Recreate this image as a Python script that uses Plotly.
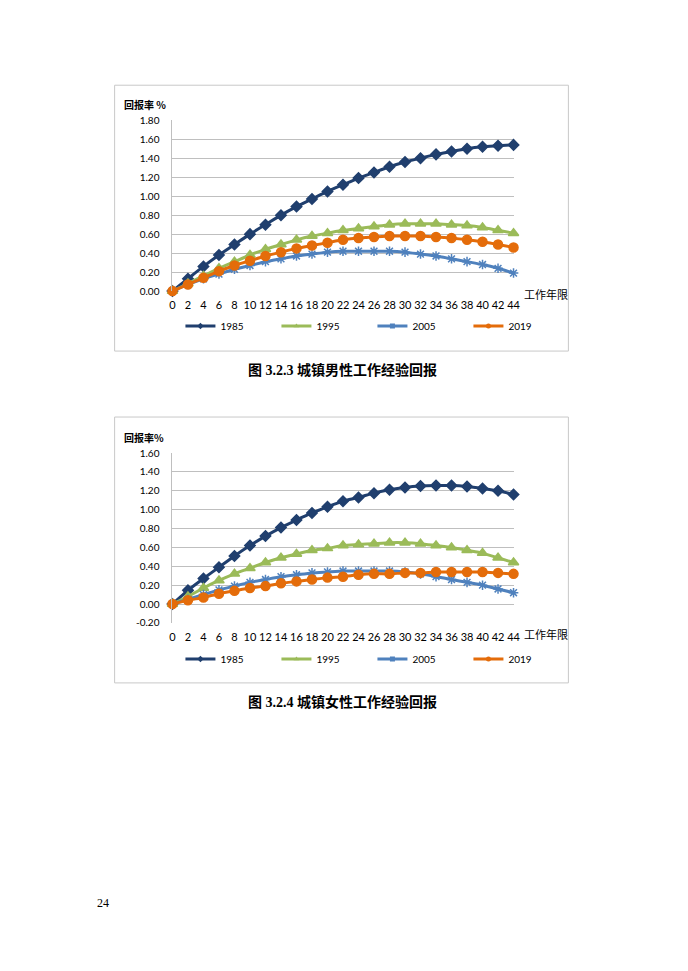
import plotly.graph_objects as go

W, H = 688, 971

years = list(range(0, 45, 2))
series_names = ["1985", "1995", "2005", "2019"]

male_1985 = [0, 0.13, 0.26, 0.38, 0.49, 0.60, 0.70, 0.80, 0.89, 0.97, 1.05, 1.12, 1.19, 1.25, 1.31, 1.36, 1.40, 1.44, 1.47, 1.50, 1.52, 1.53, 1.54]
male_1995 = [0, 0.08, 0.16, 0.24, 0.31, 0.38, 0.44, 0.49, 0.54, 0.58, 0.61, 0.64, 0.66, 0.68, 0.70, 0.71, 0.71, 0.71, 0.70, 0.69, 0.67, 0.64, 0.61]
male_2005 = [0, 0.07, 0.13, 0.18, 0.23, 0.27, 0.31, 0.34, 0.37, 0.39, 0.41, 0.42, 0.42, 0.42, 0.42, 0.41, 0.39, 0.37, 0.34, 0.31, 0.28, 0.24, 0.19]
male_2019 = [0, 0.07, 0.14, 0.21, 0.27, 0.32, 0.37, 0.41, 0.45, 0.48, 0.51, 0.54, 0.56, 0.57, 0.58, 0.58, 0.58, 0.57, 0.56, 0.54, 0.52, 0.49, 0.46]

female_1985 = [0, 0.145, 0.27, 0.39, 0.51, 0.62, 0.72, 0.81, 0.89, 0.965, 1.03, 1.09, 1.13, 1.175, 1.21, 1.235, 1.25, 1.255, 1.255, 1.245, 1.225, 1.20, 1.16]
female_1995 = [0, 0.08, 0.17, 0.25, 0.32, 0.38, 0.44, 0.49, 0.53, 0.57, 0.59, 0.62, 0.63, 0.64, 0.65, 0.65, 0.64, 0.62, 0.60, 0.57, 0.54, 0.49, 0.44]
female_2005 = [0, 0.05, 0.10, 0.15, 0.19, 0.23, 0.26, 0.29, 0.31, 0.33, 0.34, 0.35, 0.35, 0.35, 0.35, 0.34, 0.32, 0.29, 0.26, 0.23, 0.20, 0.16, 0.12]
female_2019 = [0, 0.04, 0.07, 0.11, 0.14, 0.17, 0.19, 0.22, 0.24, 0.26, 0.28, 0.29, 0.31, 0.32, 0.32, 0.33, 0.33, 0.34, 0.34, 0.34, 0.34, 0.33, 0.32]

male_ticks = [0, 0.2, 0.4, 0.6, 0.8, 1.0, 1.2, 1.4, 1.6, 1.8]
female_ticks = [-0.2, 0, 0.2, 0.4, 0.6, 0.8, 1.0, 1.2, 1.4, 1.6]

captions = ["图 3.2.3 城镇男性工作经验回报", "图 3.2.4 城镇女性工作经验回报"]
y_title = ["回报率 %", "回报率%"]
x_title = "工作年限"
page_no = "24"

colors = ["#203F6E", "#9BBB59", "#4F81BD", "#E46C0A"]
symbols = ["diamond", "triangle-up", "asterisk-open", "circle"]
msizes = [8, 9, 8, 9]
leg_symbols = ["diamond", "triangle-up", "square", "circle"]

TICKFONT = "Lato, Noto Sans, sans-serif"
CJK = "Noto Sans CJK SC, sans-serif"

# slight expansion about the page centre to match the reference page geometry
K = 1.012
CX, CY = 344.0, 485.0

def px(x):
    return (CX + (x - CX) * K) / W

def py(y):
    return 1 - (CY + (y - CY) * K) / H

fig = go.Figure()

data_sets = [
    [male_1985, male_1995, male_2005, male_2019],
    [female_1985, female_1995, female_2005, female_2019],
]

for ci, ds in enumerate(data_sets):
    xa = "x" if ci == 0 else "x2"
    ya = "y" if ci == 0 else "y2"
    lg = "legend" if ci == 0 else "legend2"
    for si, vals in enumerate(ds):
        fig.add_trace(go.Scatter(
            x=years, y=vals, name=series_names[si], showlegend=False,
            mode="lines+markers",
            line=dict(color=colors[si], width=3, shape="spline", smoothing=0.6),
            marker=dict(symbol=symbols[si], size=msizes[si], color=colors[si],
                        line=dict(color=colors[si], width=1.5)),
            xaxis=xa, yaxis=ya, cliponaxis=False,
        ))
    # legend entries (small markers, as in the source legend)
    for si in range(4):
        fig.add_trace(go.Scatter(
            x=[None], y=[None], name=series_names[si], showlegend=True,
            mode="lines+markers",
            line=dict(color=colors[si], width=3),
            marker=dict(symbol=leg_symbols[si], size=5, color=colors[si]),
            xaxis=xa, yaxis=ya, legend=lg,
        ))

plot_x = [px(174), px(516)]
doms = [[py(290), py(119)], [py(622), py(452)]]
ranges = [[0, 1.8], [-0.2, 1.6]]
tickss = [male_ticks, female_ticks]

common_x = dict(range=[0, 44], tickmode="array", tickvals=years,
                ticktext=[str(v) for v in years], showgrid=False, zeroline=False,
                showline=False, ticks="", ticklabelstandoff=6,
                tickfont=dict(family=TICKFONT, size=11, color="#000"),
                fixedrange=True)

fig.update_layout(
    xaxis=dict(domain=plot_x, anchor="y", **common_x),
    xaxis2=dict(domain=plot_x, anchor="y2", **common_x),
)
for ci in range(2):
    key = "yaxis" if ci == 0 else "yaxis2"
    fig.layout[key] = dict(
        domain=doms[ci], range=ranges[ci], anchor="x" if ci == 0 else "x2",
        tickmode="array", tickvals=tickss[ci],
        ticktext=["%.2f" % v for v in tickss[ci]],
        showgrid=True, gridcolor="#BFBFBF", gridwidth=1,
        zeroline=False, showline=True, linecolor="#BFBFBF", linewidth=1,
        ticks="", ticklabelstandoff=10,
        tickfont=dict(family=TICKFONT, size=10, color="#000"), fixedrange=True,
    )

shapes = []
annotations = []
frames = [(116, 84, 571, 350), (116, 416, 571, 682)]
leg_y = [325, 658]
cap_y = [369, 701]
ytitle_y = [103, 436]
xtitle_y = [293, 633]
for ci in range(2):
    x0, y0, x1, y1 = frames[ci]
    shapes.append(dict(type="rect", xref="paper", yref="paper",
                       x0=px(x0), x1=px(x1), y0=py(y1), y1=py(y0),
                       line=dict(color="#C8C8C8", width=1), fillcolor="rgba(0,0,0,0)", layer="below"))
    annotations.append(dict(text="<b>" + y_title[ci] + "</b>", xref="paper", yref="paper",
                            x=px(123), y=py(ytitle_y[ci]), xanchor="left", yanchor="middle",
                            showarrow=False, font=dict(family=CJK, size=10, color="#000")))
    annotations.append(dict(text=x_title, xref="paper", yref="paper",
                            x=px(524), y=py(xtitle_y[ci]), xanchor="left", yanchor="middle",
                            showarrow=False, font=dict(family=CJK, size=11, color="#000")))
    annotations.append(dict(text="<b>" + captions[ci] + "</b>", xref="paper", yref="paper",
                            x=px(344), y=py(cap_y[ci]), xanchor="center", yanchor="middle",
                            showarrow=False,
                            font=dict(family="Liberation Serif, Noto Sans CJK SC, serif", size=14, color="#000")))

annotations.append(dict(text=page_no, xref="paper", yref="paper", x=px(104), y=py(902),
                        xanchor="center", yanchor="middle", showarrow=False,
                        font=dict(family="Liberation Serif, serif", size=12, color="#000")))

leg_common = dict(orientation="h", xanchor="left", yanchor="middle",
                  entrywidth=51, entrywidthmode="pixels",
                  font=dict(family=TICKFONT, size=10, color="#000"),
                  bgcolor="rgba(0,0,0,0)", itemclick=False, itemdoubleclick=False,
                  tracegroupgap=0)

fig.update_layout(
    width=W, height=H,
    margin=dict(l=0, r=0, t=0, b=0),
    paper_bgcolor="white", plot_bgcolor="white",
    showlegend=True,
    legend=dict(x=px(182), y=py(leg_y[0]), **leg_common),
    legend2=dict(x=px(182), y=py(leg_y[1]), **leg_common),
    shapes=shapes, annotations=annotations,
)

fig.write_html("out.html", config={"displayModeBar": False},
               post_script="document.body.style.margin='0';document.body.style.padding='0';document.body.style.overflow='hidden';")
